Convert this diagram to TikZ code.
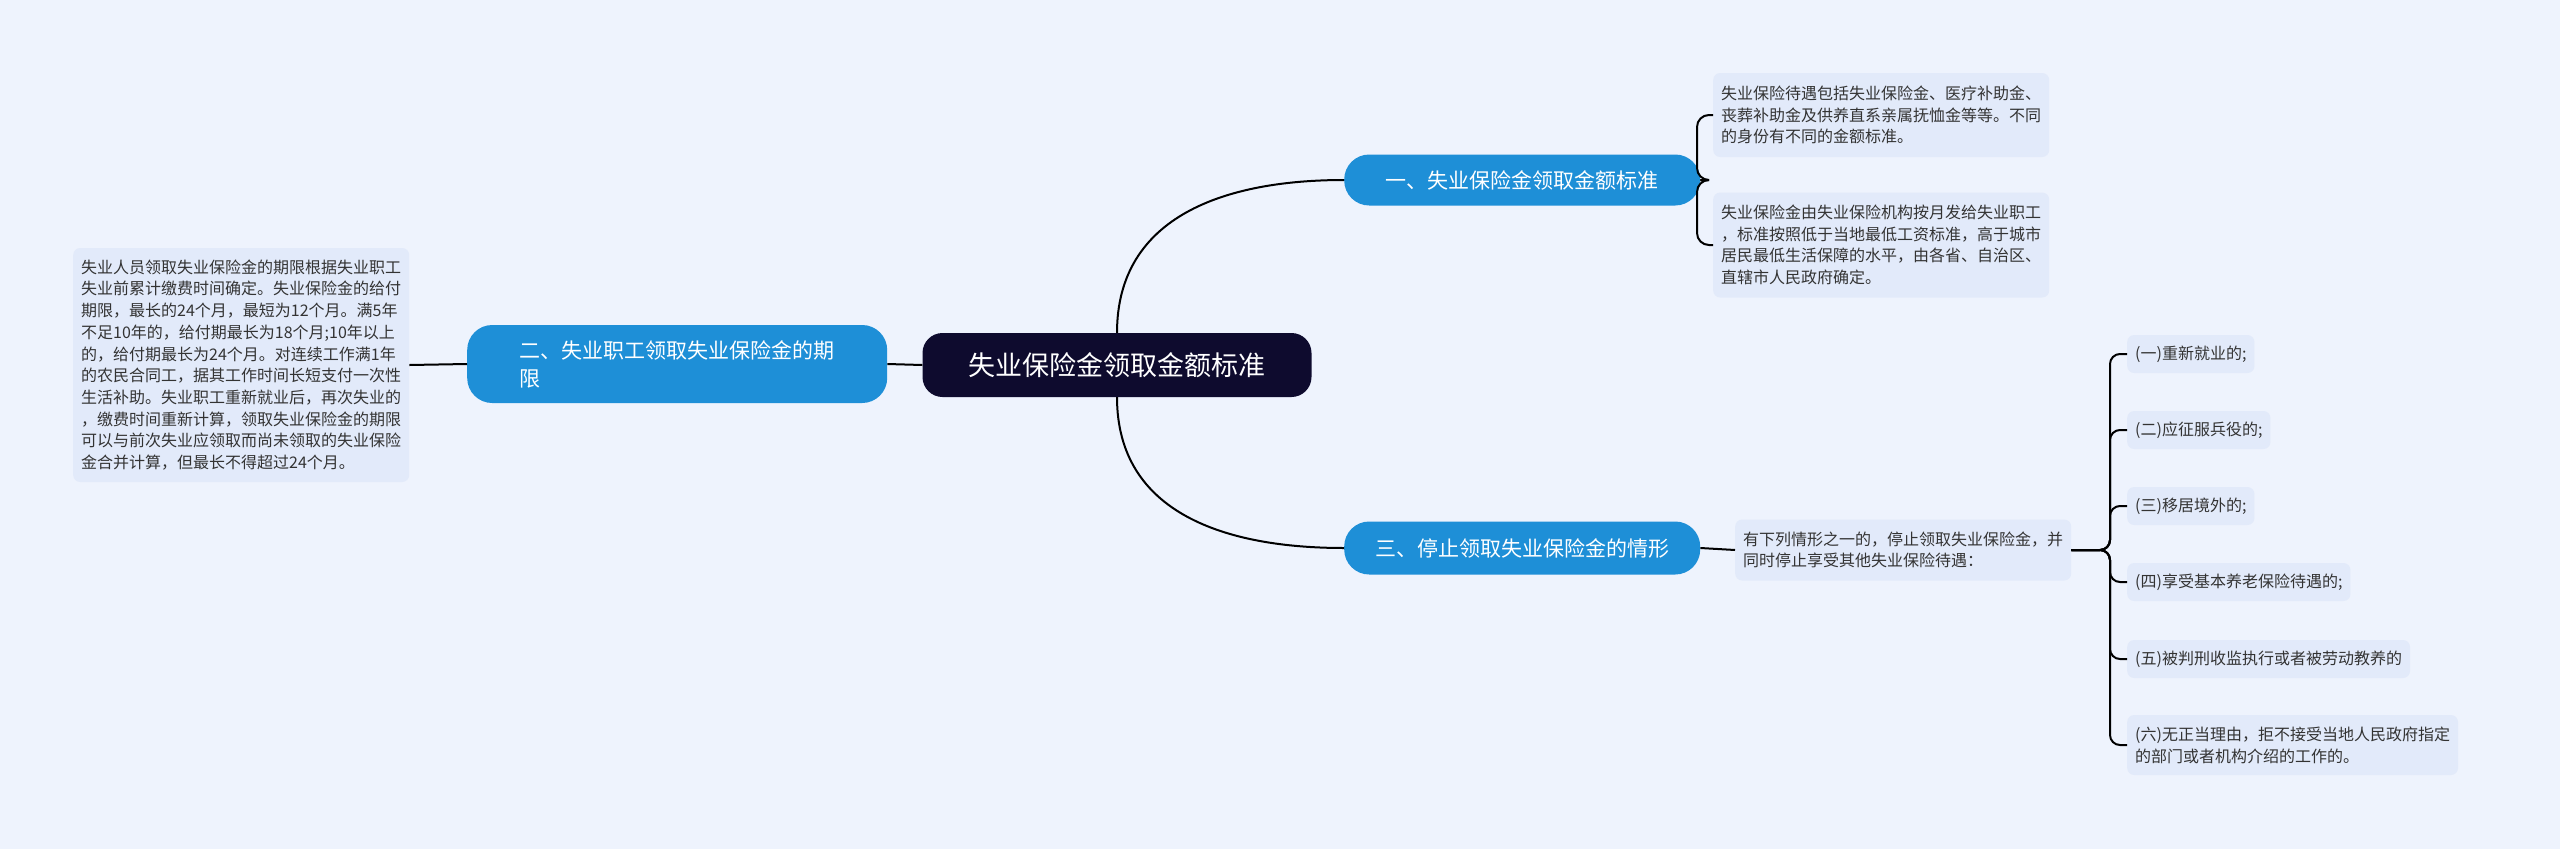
\documentclass[tikz,border=0pt]{standalone}
\usepackage{fontspec}
\setmainfont{Noto Sans CJK SC}
\definecolor{bg}{HTML}{EEF3FD}
\definecolor{leaffill}{HTML}{E2EAFA}
\definecolor{brfill}{HTML}{1E8FD7}
\definecolor{rootfill}{HTML}{0E0B2E}
\definecolor{txt}{HTML}{333333}
\tikzset{
 leaf/.style={fill=leaffill,rounded corners=7pt,align=left,text=txt,font=\fontsize{16}{21.7}\selectfont,inner xsep=8pt,inner ysep=7pt,anchor=west},
 branch/.style={fill=brfill,rounded corners=25pt,align=left,text=white,font=\fontsize{21}{28}\selectfont,inner xsep=22pt,anchor=west},
 conn/.style={draw=black,line width=2pt},
}
\begin{document}
\begin{tikzpicture}[x=1pt,y=-1pt]
\fill[bg] (0,0) rectangle (2560,849);
\useasboundingbox (0,0) rectangle (2560,849);
\node[fill=rootfill,rounded corners=20pt,text=white,font=\fontsize{27}{32}\selectfont,minimum width=389pt,minimum height=64pt] (root) at (1117,365) {失业保险金领取金额标准};
\node[branch,minimum width=356pt,minimum height=51pt] (b1) at (1344,180) {一、失业保险金领取金额标准};
\node[branch,minimum width=356pt,minimum height=53pt] (b3) at (1344,548) {三、停止领取失业保险金的情形};
\node[branch,minimum width=420pt,minimum height=78pt] (b2) at (467,364) {二、失业职工领取失业保险金的期\\限};
\node[leaf,minimum height=234pt] (l2) at (73,365) {失业人员领取失业保险金的期限根据失业职工\\失业前累计缴费时间确定。失业保险金的给付\\期限，最长的24个月，最短为12个月。满5年\\不足10年的，给付期最长为18个月;10年以上\\的，给付期最长为24个月。对连续工作满1年\\的农民合同工，据其工作时间长短支付一次性\\生活补助。失业职工重新就业后，再次失业的\\，缴费时间重新计算，领取失业保险金的期限\\可以与前次失业应领取而尚未领取的失业保险\\金合并计算，但最长不得超过24个月。};
\node[leaf,minimum height=84pt] (l11) at (1713,115) {失业保险待遇包括失业保险金、医疗补助金、\\丧葬补助金及供养直系亲属抚恤金等等。不同\\的身份有不同的金额标准。};
\node[leaf,minimum height=105pt] (l12) at (1713,245) {失业保险金由失业保险机构按月发给失业职工\\，标准按照低于当地最低工资标准，高于城市\\居民最低生活保障的水平，由各省、自治区、\\直辖市人民政府确定。};
\node[leaf,minimum height=61pt] (m) at (1735,550) {有下列情形之一的，停止领取失业保险金，并\\同时停止享受其他失业保险待遇：};
\node[leaf,minimum height=38pt] (c1) at (2127,354) {(一)重新就业的;};
\node[leaf,minimum height=38pt] (c2) at (2127,430) {(二)应征服兵役的;};
\node[leaf,minimum height=38pt] (c3) at (2127,506) {(三)移居境外的;};
\node[leaf,minimum height=38pt] (c4) at (2127,582) {(四)享受基本养老保险待遇的;};
\node[leaf,minimum height=38pt] (c5) at (2127,659) {(五)被判刑收监执行或者被劳动教养的};
\node[leaf,minimum height=60pt] (c6) at (2127,745) {(六)无正当理由，拒不接受当地人民政府指定\\的部门或者机构介绍的工作的。};
\coordinate (k1) at (1697,180);
\coordinate (km) at (2110,550);
\draw[conn] (root.north) to[out=90,in=180,looseness=1.1] (b1.west);
\draw[conn] (root.south) to[out=-90,in=180,looseness=1.1] (b3.west);
\draw[conn] (root.west) -- (b2.east);
\draw[conn] (b2.west) -- (l2.east);
\draw[conn] (b3.east) -- (m.west);
\foreach \c in {l11,l12} \draw[conn,rounded corners=12pt] (b1.east) -- (k1) |- (\c.west);
\foreach \c in {c1,c2,c3,c4,c5,c6} \draw[conn,rounded corners=10pt] (m.east) -- (km) |- (\c.west);
\end{tikzpicture}
\end{document}
